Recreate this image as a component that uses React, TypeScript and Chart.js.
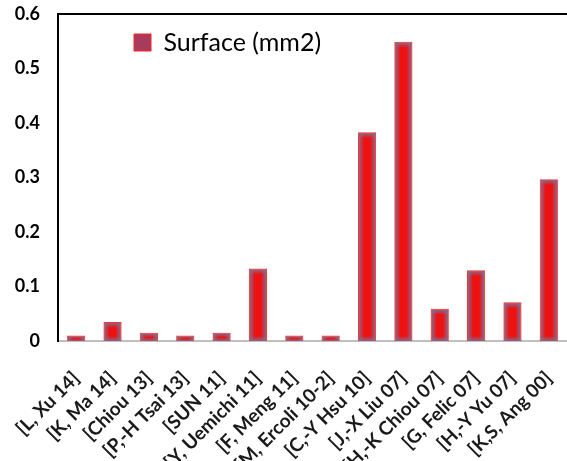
import React, { useEffect, useRef } from "react";
import { Chart, registerables } from "chart.js";
Chart.register(...registerables);

const categories = [
  "[L, Xu 14]",
  "[K, Ma 14]",
  "[Chiou 13]",
  "[P,-H Tsai 13]",
  "[SUN 11]",
  "[Y, Uemichi 11]",
  "[F, Meng 11]",
  "[M, Ercoli 10-2]",
  "[C,-Y Hsu 10]",
  "[J,-X Liu 07]",
  "[H,-K Chiou 07]",
  "[G, Felic 07]",
  "[H,-Y Yu 07]",
  "[K,S, Ang 00]",
];
const surfaceValues = [0.01, 0.035, 0.015, 0.01, 0.015, 0.133, 0.01, 0.01, 0.383, 0.549, 0.059, 0.13, 0.071, 0.297];
const seriesName = "Surface (mm2)";
const yTicks = [0, 0.1, 0.2, 0.3, 0.4, 0.5, 0.6];

const FONT = "Lato, 'Open Sans', sans-serif";

const edgeShade = {
  id: "edgeShade",
  afterDatasetsDraw(chart: any) {
    const ctx = chart.ctx;
    const meta = chart.getDatasetMeta(0);
    meta.data.forEach((el: any) => {
      const { x, y, base, width } = el.getProps(["x", "y", "base", "width"], true);
      const L = x - width / 2 + 1;
      const W = width - 2;
      const T = Math.min(y, base) + 1;
      const H = Math.abs(base - y) - 1;
      if (H <= 0) return;
      ctx.save();
      ctx.beginPath();
      ctx.rect(L, T, W, H);
      ctx.clip();
      const c0 = "rgba(125,112,150,0.9)";
      const c1 = "rgba(125,112,150,0)";
      const ex = Math.min(5, W / 2);
      const ey = Math.min(5, H / 2);
      let g = ctx.createLinearGradient(L, 0, L + ex, 0);
      g.addColorStop(0, c0); g.addColorStop(1, c1);
      ctx.fillStyle = g; ctx.fillRect(L, T, ex, H);
      g = ctx.createLinearGradient(L + W, 0, L + W - ex, 0);
      g.addColorStop(0, c0); g.addColorStop(1, c1);
      ctx.fillStyle = g; ctx.fillRect(L + W - ex, T, ex, H);
      g = ctx.createLinearGradient(0, T, 0, T + ey);
      g.addColorStop(0, c0); g.addColorStop(1, c1);
      ctx.fillStyle = g; ctx.fillRect(L, T, W, ey);
      g = ctx.createLinearGradient(0, T + H, 0, T + H - ey);
      g.addColorStop(0, c0); g.addColorStop(1, c1);
      ctx.fillStyle = g; ctx.fillRect(L, T + H - ey, W, ey);
      ctx.restore();
    });
  },
};

const legendShift = {
  id: "legendShift",
  afterLayout(chart: any) {
    if (chart.legend) {
      chart.legend.left += 66;
      chart.legend.top += 20;
    }
  },
};

export default function App() {
  const ref = useRef<HTMLCanvasElement>(null);
  useEffect(() => {
    if (!ref.current) return;
    const chart = new Chart(ref.current, {
      type: "bar",
      data: {
        labels: categories,
        datasets: [
          {
            label: seriesName,
            data: surfaceValues,
            backgroundColor: "#ee1111",
            borderColor: "#ff3030",
            borderWidth: 1,
            barPercentage: 0.5,
            categoryPercentage: 1,
          },
        ],
      },
      options: {
        responsive: false,
        animation: false,
        devicePixelRatio: 1,
        layout: { padding: { top: 14, right: 0, left: 0, bottom: 0 } },
        plugins: {
          tooltip: { enabled: false },
          legend: {
            position: "chartArea" as any,
            align: "start",
            labels: {
              boxWidth: 17,
              boxHeight: 17,
              padding: 10,
              color: "#262626",
              font: { family: FONT, size: 25 },
              generateLabels: () => [
                {
                  text: seriesName,
                  fillStyle: "#a83a5c",
                  strokeStyle: "#ff2020",
                  lineWidth: 1,
                  hidden: false,
                  datasetIndex: 0,
                },
              ],
            },
          },
        },
        scales: {
          x: {
            grid: { display: false, drawTicks: false },
            border: { display: true, color: "#bfbfbf", width: 2 },
            ticks: {
              minRotation: 45,
              maxRotation: 45,
              autoSkip: false,
              padding: 26,
              color: "#1a1a1a",
              font: { family: FONT, size: 19, weight: "bold" },
            },
            afterFit: (s: any) => {
              s.height = 120;
              s.paddingLeft = 0;
              s.paddingRight = 0;
            },
          },
          xTop: {
            type: "linear",
            position: "top",
            display: true,
            grid: { display: false, drawTicks: false },
            ticks: { display: false },
            border: { display: true, color: "#000", width: 2 },
            afterFit: (s: any) => {
              s.height = 0;
              s.paddingLeft = 0;
              s.paddingRight = 0;
            },
          },
          y: {
            min: 0,
            max: 0.6,
            afterBuildTicks: (s: any) => {
              s.ticks = yTicks.map((v) => ({ value: v }));
            },
            grid: { display: false, drawTicks: false },
            border: { display: true, color: "#000", width: 2 },
            ticks: {
              padding: 18,
              color: "#000",
              font: { family: FONT, size: 18, weight: "bold" },
              callback: (v: any) => (Number(v) === 0 ? "0" : Number(v).toFixed(1)),
            },
            afterFit: (s: any) => {
              s.width = 58;
              s.paddingTop = 0;
              s.paddingBottom = 0;
            },
          },
        },
      },
      plugins: [edgeShade, legendShift],
    });
    return () => chart.destroy();
  }, []);
  return (
    <div style={{ position: "fixed", left: 0, top: 0, width: 567, height: 461, overflow: "hidden", background: "#fff" }}>
      <canvas ref={ref} width={567} height={461} />
    </div>
  );
}
